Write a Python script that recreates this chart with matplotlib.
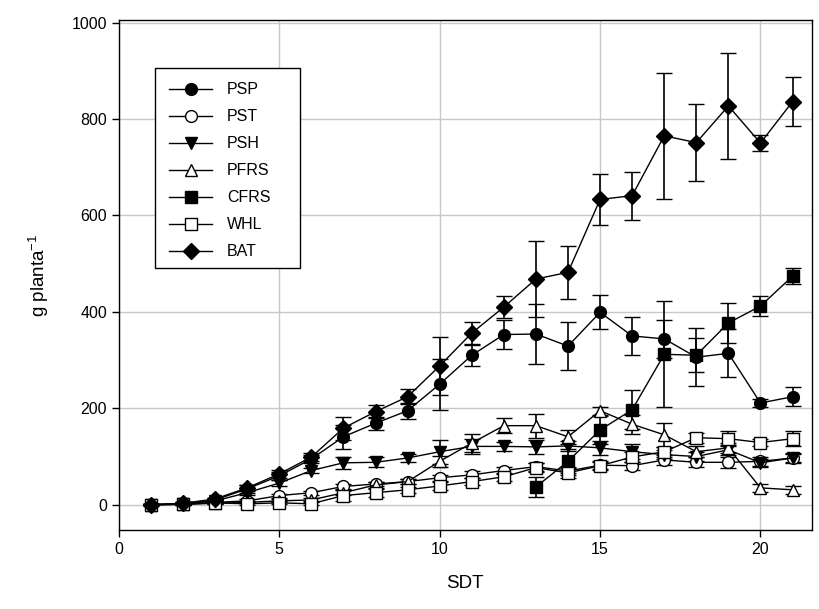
import matplotlib
matplotlib.use("Agg")
import matplotlib.pyplot as plt
from matplotlib.lines import Line2D
from matplotlib.patches import Rectangle

plt.rcParams['font.family'] = ['Liberation Sans', 'DejaVu Sans']
plt.rcParams['mathtext.default'] = 'regular'

days = list(range(1, 22))
cfrs_days = list(range(13, 22))

PSP = [0, 3, 10, 33, 60, 95, 141, 169, 195, 250, 310, 353, 354, 329, 399, 350, 344, 306, 314, 211, 224]
PSP_err = [1, 2, 3, 8, 8, 8, 25, 14, 17, 53, 23, 30, 62, 50, 35, 40, 40, 60, 50, 8, 20]

PST = [0, 1, 5, 8, 19, 25, 38, 43, 48, 56, 62, 71, 79, 70, 82, 81, 93, 88, 88, 90, 97]
PST_err = [1, 1, 2, 3, 4, 4, 5, 5, 5, 6, 7, 7, 8, 8, 8, 8, 10, 10, 12, 10, 8]

PSH = [0, 2, 8, 25, 45, 71, 87, 88, 97, 110, 121, 121, 120, 122, 118, 110, 104, 100, 114, 87, 97]
PSH_err = [1, 1, 2, 5, 6, 6, 12, 10, 8, 25, 15, 10, 15, 10, 15, 15, 10, 10, 10, 8, 10]

PFRS = [0, 1, 3, 5, 8, 10, 25, 41, 48, 90, 128, 164, 164, 141, 195, 167, 145, 110, 118, 35, 31]
PFRS_err = [1, 1, 1, 2, 3, 3, 5, 6, 6, 12, 18, 15, 25, 15, 8, 20, 25, 12, 10, 8, 8]

CFRS = [37, 90, 155, 197, 312, 310, 377, 412, 474]
CFRS_err = [20, 25, 30, 40, 110, 35, 41, 20, 17]

WHL = [0, 1, 4, 2, 4, 2, 19, 25, 31, 39, 48, 58, 77, 66, 81, 99, 110, 139, 137, 129, 137]
WHL_err = [1, 1, 2, 3, 3, 3, 12, 8, 6, 8, 8, 8, 10, 10, 8, 10, 10, 10, 15, 8, 15]

BAT = [0, 3, 12, 35, 64, 99, 159, 193, 224, 288, 356, 410, 468, 482, 633, 641, 765, 751, 827, 750, 836]
BAT_err = [1, 2, 3, 6, 8, 8, 24, 14, 15, 60, 24, 23, 79, 55, 52, 50, 130, 80, 109, 16, 51]

series = [
    ("PSP", days, PSP, PSP_err, 'o', 'black', 8.5),
    ("PST", days, PST, PST_err, 'o', 'white', 8.5),
    ("PSH", days, PSH, PSH_err, 'v', 'black', 9),
    ("PFRS", days, PFRS, PFRS_err, '^', 'white', 9),
    ("CFRS", cfrs_days, CFRS, CFRS_err, 's', 'black', 8),
    ("WHL", days, WHL, WHL_err, 's', 'white', 8),
    ("BAT", days, BAT, BAT_err, 'D', 'black', 8),
]

fig = plt.figure(figsize=(8.2, 6.09), dpi=100)
ax = fig.add_axes([0.145, 0.13, 0.845, 0.837])

handles = []
for name, x, y, e, m, fc, ms in series:
    ax.errorbar(x, y, yerr=e, fmt='-', marker=m, color='black', mfc=fc, mec='black',
                ms=ms, mew=1.0, lw=1.0, elinewidth=1.2, capsize=5.5, capthick=1.2,
                zorder=3)
    handles.append(Line2D([], [], color='black', lw=1.0, marker=m, mfc=fc, mec='black',
                          ms=ms, mew=1.0, label=name))

ax.set_xlim(0, 21.6)
ax.set_ylim(-52, 1005)
ax.set_xticks([0, 5, 10, 15, 20])
ax.set_yticks([0, 200, 400, 600, 800, 1000])
ax.grid(True, color='#c8c8c8', lw=1.0, zorder=0)
ax.set_axisbelow(True)
ax.tick_params(direction='out', length=5, width=1, labelsize=11.5, top=False, right=False)
for s in ax.spines.values():
    s.set_linewidth(1.0)

ax.set_xlabel("SDT", fontsize=13.5, labelpad=13)
ax.set_ylabel("g planta$^{-1}$", fontsize=13.5, labelpad=15)

# legend frame
ax.add_patch(Rectangle((0.052, 0.514), 0.209, 0.392, transform=ax.transAxes,
                       facecolor='white', edgecolor='black', lw=1.0, zorder=5))
leg = ax.legend(handles=handles, loc='upper left', bbox_to_anchor=(0.052, 0.906),
                fontsize=11.5, frameon=False, borderaxespad=0, borderpad=0.9,
                handlelength=2.7, labelspacing=0.75, handletextpad=0.9)
leg.set_zorder(6)

fig.savefig("out.png", dpi=100)
